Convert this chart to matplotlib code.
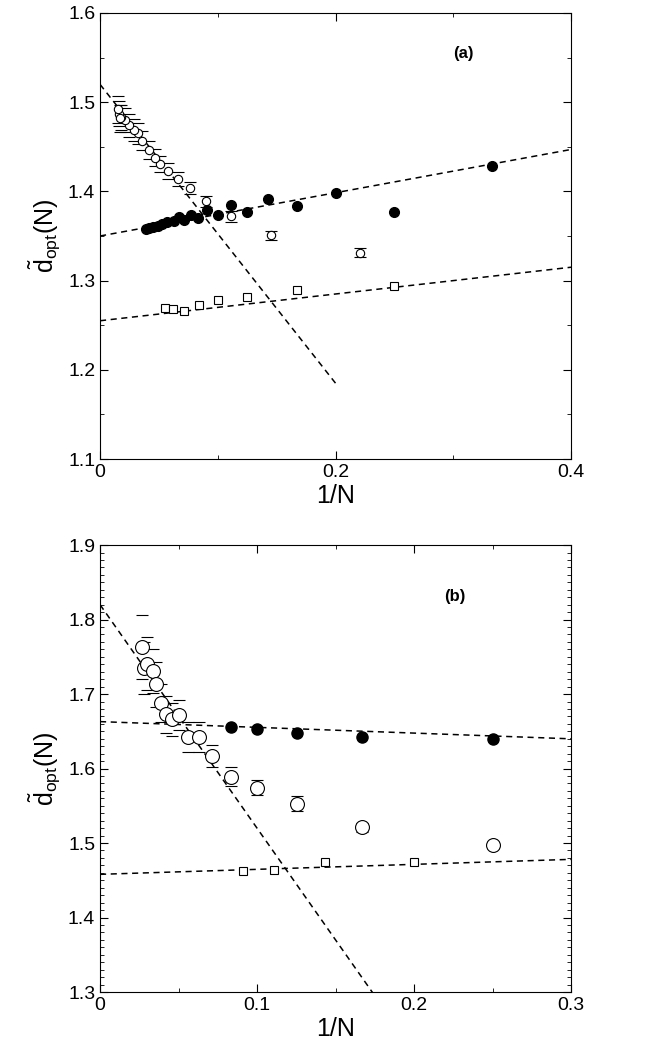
import matplotlib
matplotlib.use('Agg')
import matplotlib.pyplot as plt
import numpy as np
from matplotlib.ticker import MultipleLocator

plt.rcParams['font.family'] = ['Liberation Sans', 'DejaVu Sans']
plt.rcParams['mathtext.fontset'] = 'custom'
plt.rcParams['mathtext.rm'] = 'Liberation Sans'
plt.rcParams['mathtext.it'] = 'Liberation Sans'

# ---- panel (a) data ----
a_fill_x = [0.333, 0.25, 0.2, 0.167, 0.143, 0.125, 0.111, 0.1, 0.0909, 0.0833, 0.0769,
            0.0714, 0.0667, 0.0625, 0.057, 0.0525, 0.049, 0.045, 0.042, 0.039]
a_fill_y = [1.428, 1.377, 1.398, 1.384, 1.392, 1.377, 1.385, 1.373, 1.379, 1.370, 1.374,
            1.368, 1.371, 1.367, 1.366, 1.363, 1.361, 1.360, 1.359, 1.358]
a_sq_x = [0.055, 0.062, 0.071, 0.084, 0.1, 0.125, 0.167, 0.25]
a_sq_y = [1.269, 1.268, 1.266, 1.273, 1.278, 1.282, 1.290, 1.294]
a_op_x = [0.221, 0.145, 0.111, 0.09, 0.076, 0.066, 0.058, 0.051, 0.047, 0.042, 0.036,
          0.032, 0.029, 0.025, 0.021, 0.018, 0.016, 0.015, 0.017]
a_op_y = [1.331, 1.351, 1.372, 1.389, 1.404, 1.414, 1.423, 1.431, 1.438, 1.446, 1.457,
          1.465, 1.469, 1.474, 1.480, 1.483, 1.487, 1.492, 1.482]
a_op_err = [0.005, 0.005, 0.006, 0.006, 0.007, 0.008, 0.009, 0.009, 0.010, 0.010, 0.011,
            0.012, 0.012, 0.013, 0.013, 0.014, 0.014, 0.015, 0.015]
a_fits = [(1.35, 0.2425, 0.4), (1.255, 0.15, 0.4), (1.52, -1.675, 0.2)]

# ---- panel (b) data ----
b_fill_x = [0.0837, 0.1, 0.1256, 0.1668, 0.25]
b_fill_y = [1.656, 1.653, 1.648, 1.642, 1.639]
b_sq_x = [0.091, 0.111, 0.143, 0.2]
b_sq_y = [1.463, 1.464, 1.475, 1.475]
b_op_x = [0.0266, 0.028, 0.03, 0.0335, 0.0356, 0.0387, 0.042, 0.0456, 0.05, 0.056, 0.0628,
          0.0716, 0.0837, 0.1, 0.1256, 0.1668, 0.25]
b_op_y = [1.763, 1.735, 1.741, 1.731, 1.713, 1.688, 1.673, 1.666, 1.672, 1.642, 1.642,
          1.617, 1.589, 1.574, 1.553, 1.521, 1.497]
b_op_err = [0.043, 0.035, 0.035, 0.03, 0.03, 0.025, 0.025, 0.022, 0.02, 0.02, 0.02,
            0.015, 0.013, 0.01, 0.01, 0.006, 0.004]
b_fits = [(1.663, -0.077, 0.3), (1.458, 0.067, 0.3), (1.82, -3.0, 0.3)]

fig = plt.figure(figsize=(6.47, 10.48), dpi=100)
ax1 = fig.add_axes([0.1546, 0.562, 0.728, 0.4256])
ax2 = fig.add_axes([0.1546, 0.0534, 0.728, 0.4265])


def draw(ax, fx, fy, sx, sy, ox, oy, oe, fits, ms_o, ms_f):
    for b, m, xe in fits:
        xx = np.array([0, xe])
        ax.plot(xx, b + m * xx, 'k--', lw=1.1, dashes=(4, 3))
    ax.errorbar(ox, oy, yerr=oe, fmt='o', mfc='white', mec='black', ms=ms_o, mew=0.8,
                ecolor='black', elinewidth=0, capsize=4, capthick=1.6, zorder=3)
    ax.plot(sx, sy, 's', mfc='white', mec='black', ms=6, mew=0.8, zorder=3)
    ax.plot(fx, fy, 'o', color='black', ms=ms_f, zorder=4)
    ax.tick_params(direction='in', which='both', top=True, right=True, labelsize=14)
    ax.tick_params(which='major', length=6)
    ax.tick_params(which='minor', length=3)
    ax.set_xlabel('1/N', fontsize=18, labelpad=2)
    ax.set_ylabel(r'$\tilde{\mathrm{d}}_{\mathrm{opt}}\mathrm{(N)}$', fontsize=18)
    ax.xaxis.set_major_formatter(lambda v, p: '0' if v == 0 else f'{v:.1f}')


draw(ax1, a_fill_x, a_fill_y, a_sq_x, a_sq_y, a_op_x, a_op_y, a_op_err, a_fits, 6, 7)
ax1.set_xlim(0, 0.4)
ax1.set_ylim(1.1, 1.6)
ax1.xaxis.set_major_locator(MultipleLocator(0.2))
ax1.xaxis.set_minor_locator(MultipleLocator(0.1))
ax1.yaxis.set_major_locator(MultipleLocator(0.1))
ax1.yaxis.set_minor_locator(MultipleLocator(0.05))
ax1.text(0.3, 1.55, '(a)', fontsize=12, fontweight='bold')

draw(ax2, b_fill_x, b_fill_y, b_sq_x, b_sq_y, b_op_x, b_op_y, b_op_err, b_fits, 10, 8)
ax2.set_xlim(0, 0.3)
ax2.set_ylim(1.3, 1.9)
ax2.xaxis.set_major_locator(MultipleLocator(0.1))
ax2.xaxis.set_minor_locator(MultipleLocator(0.05))
ax2.yaxis.set_major_locator(MultipleLocator(0.1))
ax2.yaxis.set_minor_locator(MultipleLocator(0.01))
ax2.text(0.219, 1.825, '(b)', fontsize=12, fontweight='bold')

fig.savefig('out.png', dpi=100)
